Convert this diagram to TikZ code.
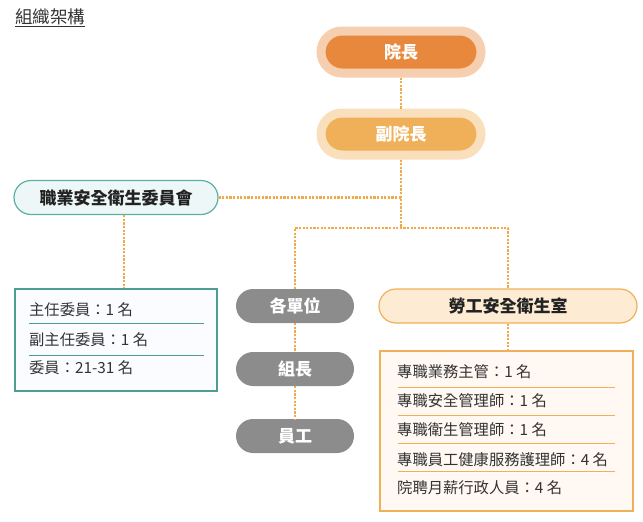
\documentclass[tikz,border=0pt]{standalone}
\usepackage{fontspec}
\setmainfont{Noto Sans CJK TC}
\definecolor{headfill}{HTML}{E8883D}
\definecolor{headring}{HTML}{F6CFB0}
\definecolor{vicefill}{HTML}{F0B05A}
\definecolor{vicering}{HTML}{F9DFBB}
\definecolor{dotline}{HTML}{F0AA48}
\definecolor{tealline}{HTML}{5DAEA3}
\definecolor{tealfill}{HTML}{EEF7F7}
\definecolor{cboxline}{HTML}{4E9E94}
\definecolor{cboxfill}{HTML}{FBFCFF}
\definecolor{greypill}{HTML}{8C8C8C}
\definecolor{labfill}{HTML}{FDEBD4}
\definecolor{labline}{HTML}{F0B05A}
\definecolor{lboxfill}{HTML}{FFF8F3}
\definecolor{ink}{HTML}{222222}
\definecolor{rowink}{HTML}{333333}
\tikzset{
  ringpill/.style={minimum width=160pt,minimum height=42pt,inner sep=0pt,rounded corners=21pt,line width=9pt,text=white,font=\bfseries\fontsize{17}{20}\selectfont},
  greybox/.style={fill=greypill,minimum width=118pt,minimum height=34pt,inner sep=0pt,rounded corners=17pt,text=white,font=\bfseries\fontsize{17}{20}\selectfont},
  softpill/.style={minimum height=34pt,inner sep=0pt,rounded corners=17pt,line width=1.2pt,text=ink,font=\bfseries\fontsize{17}{20}\selectfont},
  link/.style={draw=dotline,line width=2.8pt,dash pattern=on 2.2pt off 1.4pt},
  rowtext/.style={anchor=west,inner sep=0pt,text=rowink,font=\fontsize{15.3}{18}\selectfont},
}
\begin{document}
\begin{tikzpicture}[x=1pt,y=-1pt]
        \useasboundingbox (0,0) rectangle (643,522);
        \node[anchor=west,inner sep=0pt,text=rowink,font=\fontsize{17.5}{20}\selectfont] (title) at (15,18) {\underline{組織架構}};
        % top of the chart
        \node[ringpill,draw=headring,fill=headfill] (yz) at (401,52) {院長};
        \node[ringpill,draw=vicering,fill=vicefill] (fyz) at (401,134) {副院長};
        \node[softpill,draw=tealline,fill=tealfill,minimum width=204pt] (cmt) at (116,197.5) {職業安全衛生委員會};
        \node[draw=cboxline,fill=cboxfill,line width=1.2pt,minimum width=202pt,minimum height=102pt] (cbox) at (116,340) {};
        \node[greybox] (unit) at (295,306) {各單位};
        \node[greybox] (leader) at (295,369) {組長};
        \node[greybox] (staff) at (295,436) {員工};
        \node[softpill,draw=labline,fill=labfill,minimum width=258pt] (lab) at (508,306) {勞工安全衛生室};
        \node[draw=labline,fill=lboxfill,line width=1.2pt,minimum width=253pt,minimum height=160pt] (lbox) at (506.5,431) {};
        % committee rows
        \node[rowtext] (c1) at (29,310) {主任委員：1 名};
        \node[rowtext] (c2) at (29,340) {副主任委員：1 名};
        \node[rowtext] (c3) at (29,368) {委員：21-31 名};
        \draw[cboxline,line width=1pt] (29,323) -- (204,323) (29,355) -- (204,355);
        % office rows
        \node[rowtext] (l1) at (397,372) {專職業務主管：1 名};
        \node[rowtext] (l2) at (397,401) {專職安全管理師：1 名};
        \node[rowtext] (l3) at (397,430) {專職衛生管理師：1 名};
        \node[rowtext] (l4) at (397,460) {專職員工健康服務護理師：4 名};
        \node[rowtext] (l5) at (397,488) {院聘月薪行政人員：4 名};
        \draw[labline,line width=1pt] (398,387) -- (615,387) (398,415) -- (615,415)
                (398,443) -- (615,443) (398,471) -- (615,471);
        % connectors
        \coordinate (hub) at (401,228);
        \draw[link] (yz.south) -- (fyz.north);
        \draw[link] (fyz.south) -- (hub);
        \draw[link] (cmt.east) -- (cmt.east -| hub);
        \draw[link] ([xshift=8pt]cmt.south) -- ([xshift=8pt]cbox.north);
        \draw[link] (unit.north) |- (hub) -| (lab.north);
        \draw[link] (unit.south) -- (leader.north);
        \draw[link] (leader.south) -- (staff.north);
        \draw[link] (lab.south) -- (lab.south |- lbox.north);
        \end{tikzpicture}
\end{document}
